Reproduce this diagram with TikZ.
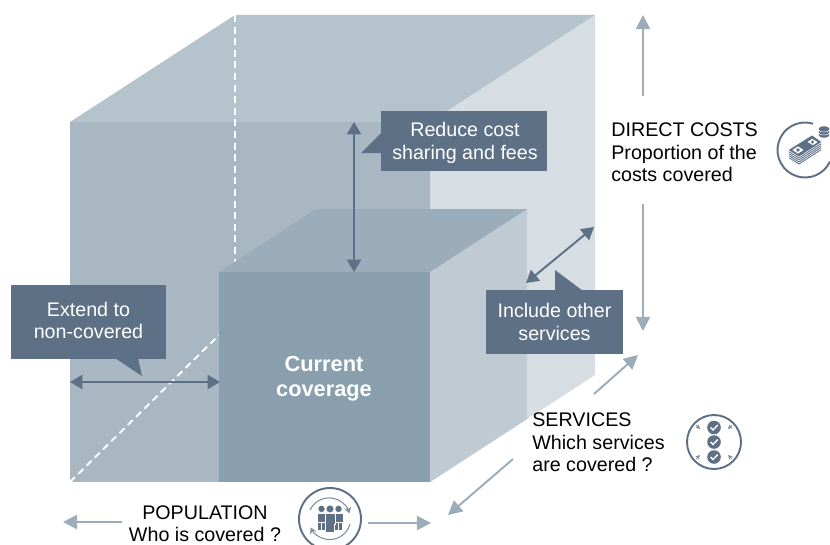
\documentclass[tikz,border=0pt]{standalone}
\usepackage{fontspec}
\setmainfont{Liberation Sans}
\usetikzlibrary{arrows.meta}

\definecolor{boxtop}{HTML}{B5C3CC}
\definecolor{boxfront}{HTML}{A8B7C2}
\definecolor{boxside}{HTML}{D6DDE3}
\definecolor{curtop}{HTML}{9BACBA}
\definecolor{curfront}{HTML}{8A9FAE}
\definecolor{curside}{HTML}{BFCAD2}
\definecolor{callout}{HTML}{5D7085}
\definecolor{axis}{HTML}{9BADBB}

\tikzset{
  calloutbox/.style={fill=callout, text=white, align=center, inner sep=0pt,
    font=\fontsize{11.2}{13}\selectfont},
  axislabel/.style={align=left, inner sep=0pt, font=\fontsize{11.2}{12.9}\selectfont},
  darkarrow/.style={{Triangle[length=7pt,width=8pt]}-{Triangle[length=7pt,width=8pt]}, draw=callout, line width=1.1pt},
  axisarrow/.style={-{Triangle[length=8pt,width=8pt]}, draw=axis, line width=1.1pt},
  whitedash/.style={draw=white, line width=1.1pt, dash pattern=on 4pt off 2.6pt},
  iconline/.style={draw=callout, line width=1.1pt},
}

\begin{document}
\begin{tikzpicture}[x=0.02cm,y=-0.02cm]
\useasboundingbox (0,0) rectangle (830,544);

% outer box
\fill[boxside] (430,122) -- (595,15) -- (595,375) -- (430,482) -- cycle;
\fill[boxtop] (70,122) -- (235,15) -- (595,15) -- (430,122) -- cycle;
\fill[boxfront] (70,122) rectangle (430,482);

\draw[whitedash] (235,15) -- (235,272);
\draw[whitedash] (70,482) -- (219,335);

% current coverage
\fill[curside] (430,272) -- (527,209) -- (527,419) -- (430,482) -- cycle;
\fill[curtop] (219,272) -- (316,209) -- (527,209) -- (430,272) -- cycle;
\node[fill=curfront, minimum width=4.22cm, minimum height=4.2cm, inner sep=0pt] (current) at (324.5,377) {};
\node[text=white, align=center, font=\fontsize{12.4}{14.4}\selectfont\bfseries] (currentlabel) at (324,378.5) {Current\\coverage};

% callouts
\fill[callout] (115,358) -- (142,376) -- (138,358) -- cycle;
\node[calloutbox, minimum width=3.1cm, minimum height=1.48cm] (extend) at (88.5,322) {};
\node[calloutbox, fill=none] (extendlabel) at (88.5,320.5) {Extend to\\non-covered};

\fill[callout] (381,133) -- (361,153) -- (381,153) -- cycle;
\node[calloutbox, minimum width=3.32cm, minimum height=1.2cm] (reduce) at (464,141) {};
\node[calloutbox, fill=none] (reducelabel) at (465,143) {Reduce cost\\sharing and fees};

\fill[callout] (555,270) -- (555,291) -- (583,291) -- cycle;
\node[calloutbox, minimum width=2.74cm, minimum height=1.28cm] (include) at (554.5,322) {Include other\\services};

% inner arrows
\coordinate (reducetop) at (354,122);
\coordinate (reducebot) at (354,272);
\coordinate (extendleft) at (70,382);
\coordinate (extendright) at (220,382);
\coordinate (includelow) at (526,283);
\coordinate (includeup) at (594,227);
\draw[darkarrow] (reducetop) -- (reducebot);
\draw[darkarrow] (extendleft) -- (extendright);
\draw[darkarrow] (includelow) -- (includeup);

% axis labels
\node[axislabel, anchor=north west] (costs) at (611,122.5) {DIRECT COSTS\\Proportion of the\\costs covered};
\node[axislabel, anchor=north west] (services) at (532,412.5) {SERVICES\\Which services\\are covered ?};
\node[axislabel, align=center, anchor=north] (population) at (205,505) {POPULATION\\Who is covered ?};

% axis arrows
\coordinate (costsup) at (643,15);
\coordinate (costsupstart) at (643,96);
\coordinate (costsdown) at (643,331);
\coordinate (costsdownstart) at (643,204);
\coordinate (servup) at (638,355);
\coordinate (servupstart) at (594,394);
\coordinate (servdown) at (448,515);
\coordinate (servdownstart) at (513,459);
\coordinate (popleft) at (63,522);
\coordinate (popleftstart) at (122,522);
\coordinate (popright) at (431,523);
\coordinate (poprightstart) at (368,523);
\draw[axisarrow] (costsupstart) -- (costsup);
\draw[axisarrow] (costsdownstart) -- (costsdown);
\draw[axisarrow] (servupstart) -- (servup);
\draw[axisarrow] (servdownstart) -- (servdown);
\draw[axisarrow] (popleftstart) -- (popleft);
\draw[axisarrow] (poprightstart) -- (popright);

% money icon
\begin{scope}[shift={(805,150)}]
\draw[iconline] (-73:27.5) arc (-73:-335:27.5);
\foreach \dy in {8,6,4,2,0} {
  \filldraw[fill=callout, draw=white, line width=0.3pt] (-17,\dy) -- (7,-15+\dy) -- (17,-8+\dy) -- (-6,7+\dy) -- cycle;
}
\filldraw[fill=white, draw=callout, line width=0.7pt] (-14,0) -- (-7,-4.5) -- (0,0) -- (-7,4.5) -- cycle;
\fill[callout] (-7,0) circle (1.8);
\filldraw[fill=white, draw=callout, line width=0.7pt] (1,-8) -- (7,-12) -- (14,-8) -- (8,-4) -- cycle;
\fill[callout] (7.5,-8) circle (1.6);
\foreach \dy in {6,3,0} {
  \filldraw[fill=callout, draw=white, line width=0.3pt] (19,-21+\dy) ellipse (6 and 3);
}
\end{scope}

% services icon
\begin{scope}[shift={(714,442)}]
\draw[iconline] (0,0) circle (27);
\foreach \cy in {-14.5,0,15} {
  \fill[callout] (0,\cy) circle (6.8);
  \draw[white, line width=0.8pt] (-3.5,\cy) -- (-1,\cy+2.5) -- (3.8,\cy-2.5);
}
\foreach \cx/\cy/\tx/\ty in {-18/-17/-14/-13, 18/-17/14/-13, -18/17/-14/13, 18/17/14/13} {
  \draw[-{Stealth[length=2.5pt,width=2.5pt]}, callout!80, line width=0.5pt] (\cx,\cy) -- (\tx,\ty);
}
\end{scope}

% population icon
\begin{scope}[shift={(330,519)}]
\draw[iconline] (0,0) circle (31);
\draw[callout!80, line width=0.6pt, -{Stealth[length=3.5pt,width=4pt]}] (-20,-9) arc (-155:-15:21);
\draw[callout!80, line width=0.6pt, -{Stealth[length=3.5pt,width=4pt]}] (20,5) arc (15:155:21);
\foreach \px/\py/\ps in {-8.5/-0.5/0.8, 8.5/-0.5/0.8, 0/0.5/0.88} {
  \begin{scope}[shift={(\px,\py)}, scale=\ps]
  \fill[callout] (0,-12) circle (4);
  \filldraw[fill=callout, draw=white, line width=0.2pt] (-5.8,-7) rectangle (5.8,5);
  \fill[callout] (-4.2,5) rectangle (-0.4,14);
  \fill[callout] (0.4,5) rectangle (4.2,14);
  \end{scope}
}
\end{scope}

\end{tikzpicture}
\end{document}
